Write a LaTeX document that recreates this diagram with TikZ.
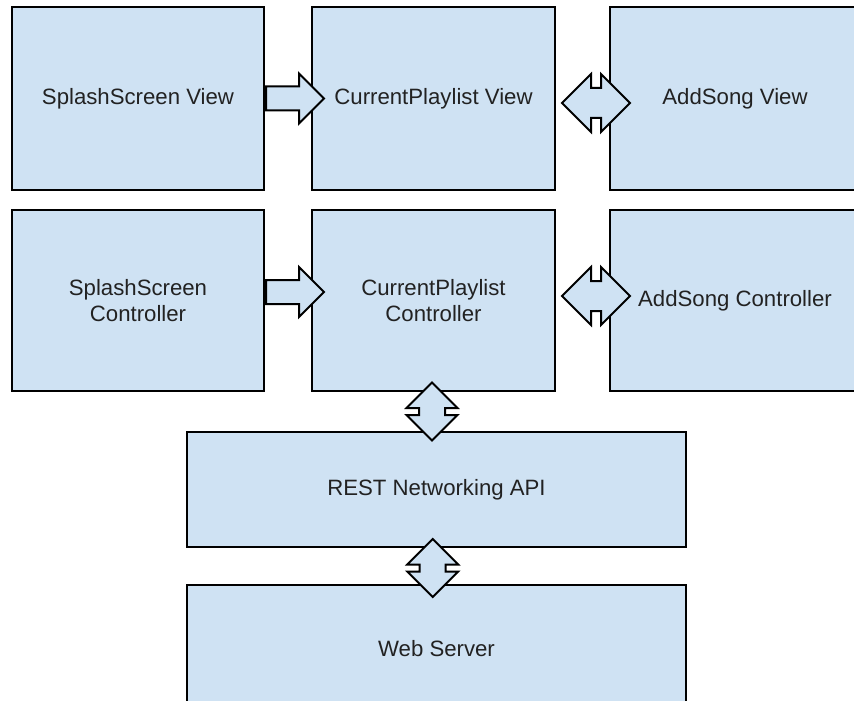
\documentclass[tikz,border=0pt]{standalone}
\usepackage{fontspec}
\setmainfont{Liberation Sans}
\usetikzlibrary{positioning,shapes.arrows,calc}
\definecolor{boxblue}{HTML}{CFE2F3}
\definecolor{boxtext}{HTML}{222222}

\begin{document}
\begin{tikzpicture}[
  node distance=9pt and 23pt,
  box/.style={draw, line width=1pt, fill=boxblue, text=boxtext, align=center, inner sep=0pt, font=\fontsize{11.1}{13}\selectfont},
  screen/.style={box, minimum width=126pt, minimum height=91.5pt},
  ctrl/.style={box, minimum width=126pt, minimum height=90.5pt},
  layer/.style={box, minimum width=249.5pt},
  blockarrow/.style={draw, line width=1pt, fill=boxblue, inner sep=5.5pt},
  fatarrow/.style={blockarrow, single arrow, single arrow head extend=6.5pt, minimum width=24pt, minimum height=29pt},
  twoway/.style={blockarrow, double arrow, inner sep=7pt, double arrow head extend=7pt, minimum width=28pt, minimum height=34pt},
  updown/.style={blockarrow, double arrow, shape border rotate=90, inner sep=6pt, double arrow head extend=6.25pt, minimum width=24.5pt, minimum height=29pt}
]
\useasboundingbox (0,0) rectangle (427pt,-350pt);
\clip (0,0) rectangle (427pt,-350pt);
% views
\node[screen] (splashv) at (69pt,-49.25pt) {SplashScreen View};
\node[screen, right=of splashv, minimum width=121.5pt] (playv) {CurrentPlaylist View};
\node[screen, right=26.5pt of playv, minimum width=125pt] (addv) {AddSong View};
% controllers
\node[ctrl, below=of splashv] (splashc) {SplashScreen\\Controller};
\node[ctrl, right=of splashc, minimum width=121.5pt] (playc) {CurrentPlaylist\\Controller};
\node[ctrl, right=26.5pt of playc, minimum width=125pt] (addc) {AddSong Controller};
% backend
\node[layer, below=19.5pt of playc, xshift=1.5pt, minimum height=57.5pt] (rest) {REST Networking API};
\node[layer, below=18pt of rest, minimum height=64pt] (web) {Web Server};
% block arrows
\node[fatarrow, anchor=tail] (go1) at (splashv.east) {};
\node[fatarrow, anchor=tail] (go2) at ([yshift=4.25pt]splashc.east) {};
\node[twoway] (link1) at ($(playv.east)!.5!(addv.west)+(6.75pt,-2.25pt)$) {};
\node[twoway] (link2) at ($(playc.east)!.5!(addc.west)+(6.75pt,2.25pt)$) {};
\node[updown] (link3) at ($(playc.south)!.5!(rest.north)+(-1.5pt,0)$) {};
\node[updown] (link4) at ($(rest.south)!.5!(web.north)+(-1.9pt,-1pt)$) {};
\end{tikzpicture}
\end{document}
